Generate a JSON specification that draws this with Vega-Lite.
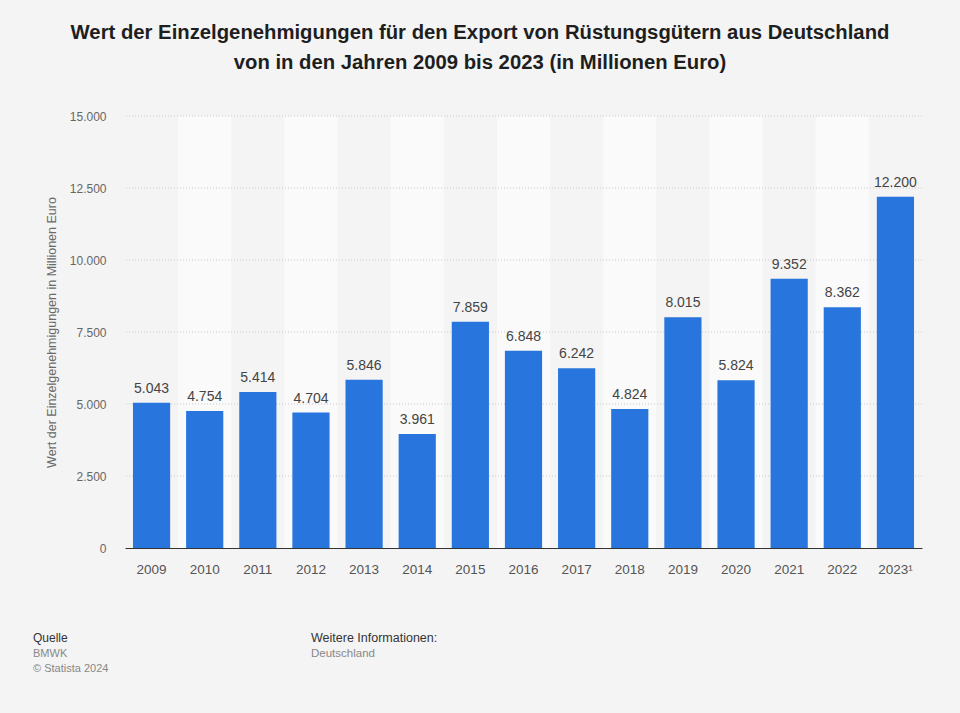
{
  "$schema": "https://vega.github.io/schema/vega-lite/v6.json",
  "width": 797,
  "height": 432,
  "autosize": {"type": "none"},
  "padding": {"left": 125, "top": 116, "right": 38, "bottom": 165},
  "background": "#f4f4f4",
  "config": {
    "view": {"stroke": null},
    "font": "Liberation Sans",
    "locale": {"number": {"decimal": ",", "thousands": ".", "grouping": [3], "currency": ["", " €"]}}
  },
  "title": {
    "text": ["Wert der Einzelgenehmigungen für den Export von Rüstungsgütern aus Deutschland", "von in den Jahren 2009 bis 2023 (in Millionen Euro)"],
    "anchor": "middle",
    "frame": "group",
    "dx": -43.5,
    "offset": 37,
    "fontSize": 20.3,
    "fontWeight": "bold",
    "color": "#1e1e1e",
    "lineHeight": 30,
    "font": "Liberation Sans"
  },
  "datasets": {
    "main": [
      {"year": "2009", "value": 5043},
      {"year": "2010", "value": 4754},
      {"year": "2011", "value": 5414},
      {"year": "2012", "value": 4704},
      {"year": "2013", "value": 5846},
      {"year": "2014", "value": 3961},
      {"year": "2015", "value": 7859},
      {"year": "2016", "value": 6848},
      {"year": "2017", "value": 6242},
      {"year": "2018", "value": 4824},
      {"year": "2019", "value": 8015},
      {"year": "2020", "value": 5824},
      {"year": "2021", "value": 9352},
      {"year": "2022", "value": 8362},
      {"year": "2023¹", "value": 12200}
    ],
    "grid": [
      {"tick": 2500}, {"tick": 5000}, {"tick": 7500}, {"tick": 10000}, {"tick": 12500}, {"tick": 15000}
    ]
  },
  "layer": [
    {
      "data": {"name": "main"},
      "transform": [
        {"window": [{"op": "row_number", "as": "idx"}]},
        {"filter": "datum.idx % 2 == 0"}
      ],
      "mark": {"type": "bar", "color": "#fafafa"},
      "encoding": {
        "x": {"field": "year", "type": "nominal"},
        "y": {"datum": 0, "type": "quantitative"},
        "y2": {"datum": 15000}
      }
    },
    {
      "data": {"name": "grid"},
      "mark": {"type": "rule", "color": "#c8c8c8", "strokeDash": [1, 2], "strokeWidth": 1},
      "encoding": {
        "y": {"field": "tick", "type": "quantitative"}
      }
    },
    {
      "data": {"name": "main"},
      "mark": {"type": "bar", "color": "#2876dd", "width": {"band": 0.7}},
      "encoding": {
        "x": {
          "field": "year", "type": "nominal",
          "scale": {"domain": ["2009", "2010", "2011", "2012", "2013", "2014", "2015", "2016", "2017", "2018", "2019", "2020", "2021", "2022", "2023¹"], "paddingInner": 0, "paddingOuter": 0},
          "axis": {
            "title": null, "labelAngle": 0, "ticks": false, "bandPosition": 0.5,
            "domainColor": "#333333", "domainWidth": 1.2,
            "labelFontSize": 13.5, "labelColor": "#555555", "labelPadding": 21,
            "labelFont": "Liberation Sans", "labelAlign": "center"
          }
        },
        "y": {
          "field": "value", "type": "quantitative",
          "scale": {"domain": [0, 15000], "nice": false},
          "axis": {
            "title": "Wert der Einzelgenehmigungen in Millionen Euro",
            "titleFontSize": 12.5, "titleColor": "#6a6a6a", "titleFontWeight": "normal",
            "titlePadding": 11,
            "values": [0, 2500, 5000, 7500, 10000, 12500, 15000],
            "format": ",d",
            "grid": false, "domain": false, "ticks": false,
            "labelFontSize": 12, "labelColor": "#666666", "labelPadding": 19,
            "labelFont": "Liberation Sans", "titleFont": "Liberation Sans"
          }
        }
      }
    },
    {
      "data": {"name": "main"},
      "mark": {"type": "text", "fontSize": 14, "color": "#444444", "baseline": "alphabetic", "dy": -10, "font": "Liberation Sans"},
      "encoding": {
        "x": {"field": "year", "type": "nominal"},
        "y": {"field": "value", "type": "quantitative"},
        "text": {"field": "value", "type": "quantitative", "format": ",d"}
      }
    },
    {
      "data": {"values": [{"t": "Quelle"}]},
      "mark": {"type": "text", "x": -92, "y": 522, "align": "left", "baseline": "middle", "fontSize": 12, "color": "#333333"},
      "encoding": {"text": {"field": "t"}}
    },
    {
      "data": {"values": [{"t": "BMWK"}]},
      "mark": {"type": "text", "x": -92, "y": 538, "align": "left", "baseline": "middle", "fontSize": 11, "color": "#888888"},
      "encoding": {"text": {"field": "t"}}
    },
    {
      "data": {"values": [{"t": "© Statista 2024"}]},
      "mark": {"type": "text", "x": -92, "y": 553, "align": "left", "baseline": "middle", "fontSize": 11, "color": "#888888"},
      "encoding": {"text": {"field": "t"}}
    },
    {
      "data": {"values": [{"t": "Weitere Informationen:"}]},
      "mark": {"type": "text", "x": 186, "y": 522, "align": "left", "baseline": "middle", "fontSize": 12.5, "color": "#333333"},
      "encoding": {"text": {"field": "t"}}
    },
    {
      "data": {"values": [{"t": "Deutschland"}]},
      "mark": {"type": "text", "x": 186, "y": 538, "align": "left", "baseline": "middle", "fontSize": 11.5, "color": "#888888"},
      "encoding": {"text": {"field": "t"}}
    }
  ]
}
